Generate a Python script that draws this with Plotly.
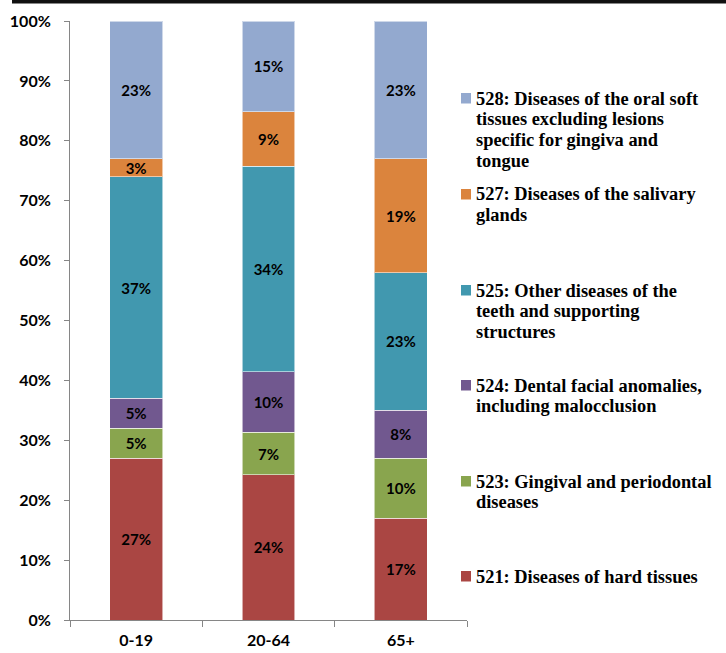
import plotly.graph_objects as go

# Age groups on the x axis
age_groups = ["0-19", "20-64", "65+"]

# Share of visits (%) by diagnosis group, stacked bottom to top
codes = ["521", "523", "524", "525", "527", "528"]
hard_tissues = [27, 24, 17]          # 521
gingival = [5, 7, 10]                # 523
dentofacial = [5, 10, 8]             # 524
other_teeth = [37, 34, 23]           # 525
salivary = [3, 9, 19]                # 527
oral_soft = [23, 15, 23]             # 528

series_values = [hard_tissues, gingival, dentofacial, other_teeth, salivary, oral_soft]
series_colors = ["#AA4643", "#89A54E", "#71588F", "#4198AF", "#DB843D", "#93A9CF"]

# Legend text, one entry per line of wrapped text, top entry first
legend_lines = [
    ["528: Diseases of the oral soft", "tissues excluding lesions",
     "specific for gingiva and", "tongue"],
    ["527: Diseases of the salivary", "glands"],
    ["525: Other diseases of the", "teeth and supporting", "structures"],
    ["524: Dental facial anomalies,", "including malocclusion"],
    ["523: Gingival and periodontal", "diseases"],
    ["521: Diseases of hard tissues"],
]
legend_colors = ["#93A9CF", "#DB843D", "#4198AF", "#71588F", "#89A54E", "#AA4643"]

W, H = 726, 653
ML, MR, MT, MB = 70, 259, 21, 33
PW = W - ML - MR
PH = H - MT - MB


def px(x):
    return (x - ML) / PW


def py(y):
    return (H - MB - y) / PH


fig = go.Figure()
for code, vals, col in zip(codes, series_values, series_colors):
    fig.add_trace(go.Bar(
        x=age_groups, y=vals, name=code,
        marker=dict(color=col, line=dict(color="rgba(255,255,255,0.55)", width=1)),
        text=[f"{v}%" for v in vals],
        textposition="inside", insidetextanchor="middle", textangle=0,
        constraintext="none",
        textfont=dict(family="Lato", size=15, color="#000000", weight="bold"),
        width=0.4, showlegend=False,
    ))

shapes = [
    # heavy rule along the top edge
    dict(type="rect", xref="paper", yref="paper", x0=px(12), x1=px(W), y0=py(3.5), y1=py(0),
         fillcolor="#111111", line=dict(width=0), layer="above"),
]
annotations = []
square_tops = [93, 189, 285, 380, 476, 571]
line_step = 20.8
for lines, col, top in zip(legend_lines, legend_colors, square_tops):
    shapes.append(dict(type="rect", xref="paper", yref="paper",
                       x0=px(461), x1=px(471), y0=py(top + 10.5), y1=py(top),
                       fillcolor=col, line=dict(width=0)))
    for i, line in enumerate(lines):
        annotations.append(dict(
            text=line, xref="paper", yref="paper", x=px(474), y=py(top + 5.5 + i * line_step),
            xanchor="left", yanchor="middle", showarrow=False, align="left",
            font=dict(family="Liberation Serif", size=18.4, color="#000000", weight="bold"),
        ))

fig.update_layout(
    width=W, height=H,
    margin=dict(l=ML, r=MR, t=MT, b=MB, autoexpand=False),
    barmode="stack", barnorm="percent",
    paper_bgcolor="white", plot_bgcolor="white",
    shapes=shapes, annotations=annotations,
    hovermode=False,
    xaxis=dict(
        type="category", tickson="boundaries", ticks="outside", ticklen=6,
        tickcolor="#868686", showline=True, linecolor="#868686", linewidth=1,
        showgrid=False, ticklabelstandoff=6,
        tickfont=dict(family="Lato", size=16, color="#000000", weight="bold"),
    ),
    yaxis=dict(
        range=[0, 100], dtick=10, ticksuffix="%", ticks="outside", ticklen=5,
        tickcolor="#868686", showline=True, linecolor="#868686", linewidth=1,
        showgrid=False, zeroline=False, ticklabelstandoff=10,
        tickfont=dict(family="Lato", size=16, color="#000000", weight="bold"),
    ),
)

fig.write_html("out.html")
